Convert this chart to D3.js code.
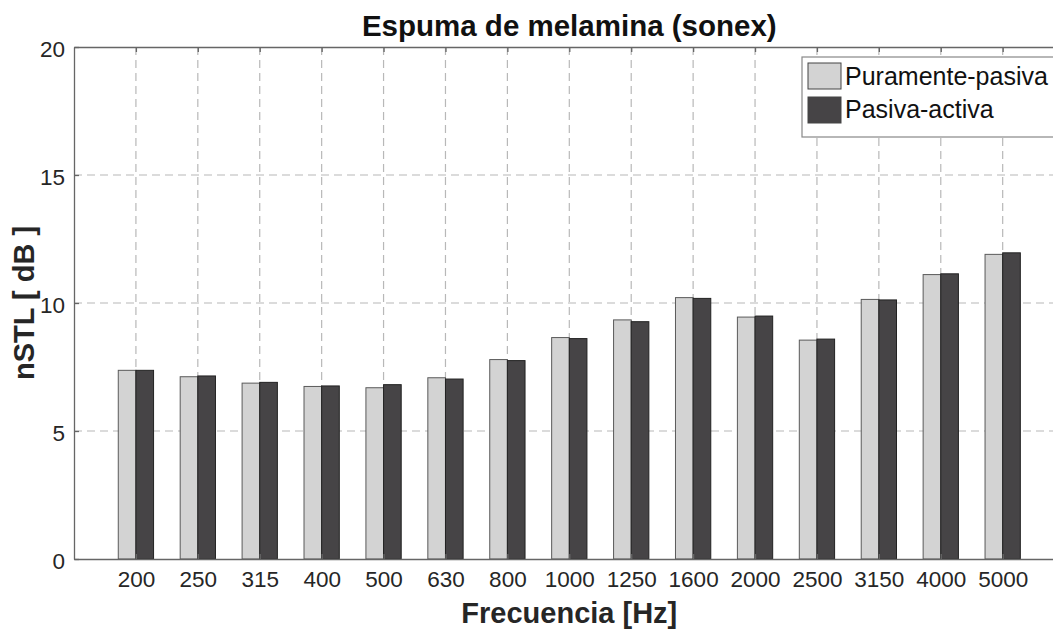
<!DOCTYPE html>
<html>
<head>
<meta charset="utf-8">
<script src="https://cdn.jsdelivr.net/npm/d3@7"></script>
<style>
  body { margin: 0; background: #fff; }
  svg { display: block; font-family: "Liberation Sans", Arial, sans-serif; }
</style>
</head>
<body>
<svg id="chart" width="1053" height="631"></svg>
<script>
// frequencies (third-octave bands)
var freqs = ['200', '250', '315', '400', '500', '630', '800', '1000', '1250', '1600', '2000', '2500', '3150', '4000', '5000'];
var seriesNames = ['Puramente-pasiva', 'Pasiva-activa'];
var seriesColors = ['#d3d3d3', '#464446'];
// nSTL values in dB
var pasiva = [7.37, 7.12, 6.87, 6.74, 6.69, 7.08, 7.79, 8.65, 9.34, 10.21, 9.45, 8.55, 10.14, 11.11, 11.90];
var activa = [7.37, 7.15, 6.90, 6.76, 6.81, 7.03, 7.75, 8.61, 9.27, 10.18, 9.49, 8.59, 10.12, 11.14, 11.96];
var yTicks = [0, 5, 10, 15, 20];

var svg = d3.select('#chart');
var plotL = 74, plotR = 1064.6, plotT = 47, plotB = 559;

// categories sit at 1..15 on a 0..16 axis, like matlab's bar()
var x = d3.scaleLinear().domain([0, freqs.length + 1]).range([plotL, plotR]);
var y = d3.scaleLinear().domain([0, 20]).range([plotB, plotT]);
var step = x(1) - x(0);
var barW = step * 0.285;

var gridCol = '#b8b8b8';
var axisCol = '#666';

// grid
svg.append('g').selectAll('line')
    .data(freqs)
    .enter().append('line')
    .attr('x1', function (d, i) { return x(i + 1); })
    .attr('x2', function (d, i) { return x(i + 1); })
    .attr('y1', plotT).attr('y2', plotB)
    .attr('stroke', gridCol).attr('stroke-width', 1.2)
    .attr('stroke-dasharray', '8,5');

svg.append('g').selectAll('line')
    .data(yTicks.filter(function (t) { return t > 0 && t < 20; }))
    .enter().append('line')
    .attr('x1', plotL).attr('x2', plotR)
    .attr('y1', function (d) { return y(d); })
    .attr('y2', function (d) { return y(d); })
    .attr('stroke', gridCol).attr('stroke-width', 1.2)
    .attr('stroke-dasharray', '8,5');

// bars
var allSeries = [pasiva, activa];
allSeries.forEach(function (vals, s) {
    svg.append('g').selectAll('rect')
        .data(vals)
        .enter().append('rect')
        .attr('x', function (d, i) { return s == 0 ? x(i + 1) - barW : x(i + 1); })
        .attr('width', barW)
        .attr('y', function (d) { return y(d); })
        .attr('height', function (d) { return y(0) - y(d); })
        .attr('fill', seriesColors[s])
        .attr('stroke', s == 0 ? '#5a5a5a' : '#222')
        .attr('stroke-width', 1);
});

// axes
var xAxis = d3.axisBottom(x)
    .tickValues(d3.range(1, freqs.length + 1))
    .tickFormat(function (d) { return freqs[d - 1]; })
    .tickSizeInner(-5).tickSizeOuter(0).tickPadding(12);
var gx = svg.append('g').attr('transform', 'translate(0,' + plotB + ')').call(xAxis);

var xTop = d3.axisTop(x)
    .tickValues(d3.range(1, freqs.length + 1))
    .tickFormat('')
    .tickSizeInner(-5).tickSizeOuter(0);
var gxt = svg.append('g').attr('transform', 'translate(0,' + plotT + ')').call(xTop);

var yAxis = d3.axisLeft(y)
    .tickValues(yTicks)
    .tickSizeInner(-5).tickSizeOuter(0).tickPadding(9);
var gy = svg.append('g').attr('transform', 'translate(' + plotL + ',0)').call(yAxis);

[gx, gxt, gy].forEach(function (g) {
    g.attr('font-size', null).attr('font-family', null);
    g.select('.domain').attr('stroke', axisCol).attr('stroke-width', 1.3);
    g.selectAll('.tick line').attr('stroke', axisCol).attr('stroke-width', 1.3);
    g.selectAll('.tick text').attr('fill', '#262626').style('font-size', '22.5px');
});
gy.selectAll('.tick text').attr('dy', '0.42em');

// titles
svg.append('text')
    .attr('x', (plotL + plotR) / 2).attr('y', 36)
    .attr('text-anchor', 'middle')
    .style('font-size', '29.5px').style('font-weight', 'bold')
    .attr('fill', '#111')
    .text('Espuma de melamina (sonex)');

svg.append('text')
    .attr('x', (plotL + plotR) / 2).attr('y', 623)
    .attr('text-anchor', 'middle')
    .style('font-size', '29px').style('font-weight', 'bold')
    .attr('fill', '#262626')
    .text('Frecuencia [Hz]');

svg.append('text')
    .attr('transform', 'translate(34,' + (plotT + plotB) / 2 + ') rotate(-90)')
    .attr('text-anchor', 'middle')
    .style('font-size', '29px').style('font-weight', 'bold')
    .attr('fill', '#262626')
    .text('nSTL [ dB ]');

// legend
var leg = svg.append('g').attr('transform', 'translate(802,57)');
leg.append('rect')
    .attr('width', 270).attr('height', 80)
    .attr('fill', '#fff').attr('stroke', '#888').attr('stroke-width', 1.2);
seriesNames.forEach(function (name, i) {
    leg.append('rect')
        .attr('x', 6).attr('y', 6 + i * 34)
        .attr('width', 33).attr('height', 26)
        .attr('fill', seriesColors[i])
        .attr('stroke', '#444').attr('stroke-width', 1);
    leg.append('text')
        .attr('x', 43).attr('y', 28 + i * 33)
        .style('font-size', '25px')
        .attr('fill', '#111')
        .text(name);
});
</script>
</body>
</html>
